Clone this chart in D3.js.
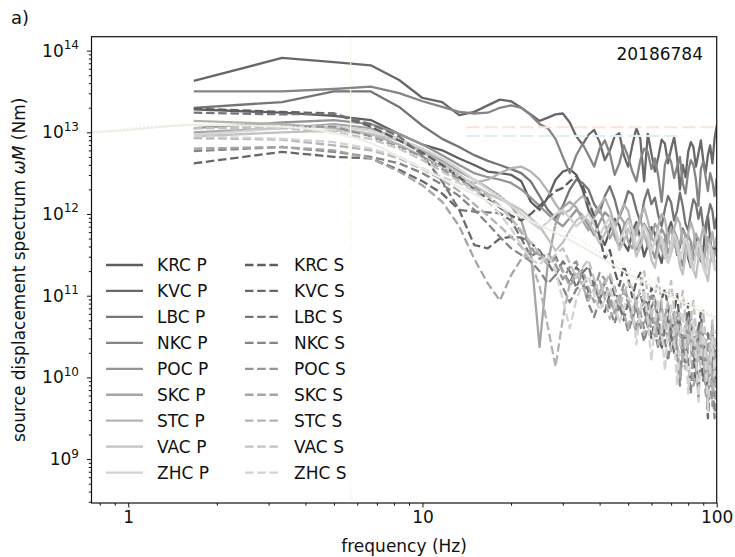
<!DOCTYPE html>
<html>
<head>
<meta charset="utf-8">
<script src="https://cdn.jsdelivr.net/npm/d3@7"></script>
<style>
  body { margin: 0; background: #fff; }
  svg { display: block; font-family: "DejaVu Sans", sans-serif; }
</style>
</head>
<body>
<svg id="chart" width="735" height="557"></svg>
<script>
// frequency bins (Hz)
const freqs = [1.67, 3.33, 5, 6.67, 8.33, 10, 11.67, 13.33, 15, 16.67,
  18.33, 20, 21.67, 23.33, 25, 26.67, 28.33, 30, 31.67, 33.33,
  35, 36.67, 38.33, 40, 41.67, 43.33, 45, 46.67, 48.33, 50,
  51.67, 53.33, 55, 56.67, 58.33, 60, 61.67, 63.33, 65, 66.67,
  68.33, 70, 71.67, 73.33, 75, 76.67, 78.33, 80, 81.67, 83.33,
  85, 86.67, 88.33, 90, 91.67, 93.33, 95, 96.67, 98.33, 100];

// spectra, log10 of omega*M (Nm), one value per bin
const krcP = [13.28, 13.24, 13.20, 13.15, 12.98, 12.85, 12.78, 12.68, 12.60, 12.52,
  12.50, 12.48, 12.40, 12.15, 12.05, 12.20, 12.42, 12.52, 12.55, 12.48,
  12.30, 12.05, 11.90, 11.75, 11.62, 11.80, 11.94, 11.86, 11.64, 11.55,
  11.78, 11.90, 11.70, 11.48, 11.62, 11.84, 11.76, 11.52, 11.40, 11.66,
  11.80, 11.90, 11.72, 11.50, 11.60, 11.82, 11.74, 11.46, 11.35, 11.58,
  11.72, 11.64, 11.42, 11.55, 11.86, 11.98, 11.70, 11.48, 11.60, 11.52];
const kvcP = [13.63, 13.91, 13.86, 13.82, 13.64, 13.42, 13.37, 13.21, 13.25, 13.33,
  13.40, 13.38, 13.30, 13.22, 13.14, 13.18, 13.22, 13.23, 13.12, 12.95,
  12.85, 12.97, 13.03, 12.88, 12.66, 12.78, 12.95, 12.99, 12.72, 12.58,
  12.84, 13.05, 12.92, 12.40, 12.98, 12.74, 12.52, 12.70, 12.91, 12.86,
  12.62, 12.80, 12.94, 12.70, 12.30, 12.60, 12.45, 12.76, 12.88, 12.82,
  12.58, 12.74, 12.90, 12.66, 12.50, 12.72, 12.84, 12.62, 12.92, 13.08];
const lbcP = [13.30, 13.37, 13.50, 13.50, 13.31, 13.08, 12.92, 12.82, 12.72, 12.65,
  12.60, 12.55, 12.50, 12.40, 12.22, 12.05, 11.95, 12.10, 12.30, 12.42,
  12.38, 12.30, 12.12, 12.02, 12.22, 12.34, 12.18, 11.96, 12.10, 12.28,
  12.24, 12.05, 11.90, 12.16, 12.30, 12.12, 12.20, 11.98, 11.85, 12.06,
  12.22, 12.14, 11.92, 12.04, 12.26, 12.10, 11.88, 11.80, 12.02, 12.18,
  12.12, 11.94, 12.08, 11.84, 11.76, 11.98, 12.12, 12.04, 11.82, 11.96];
const nkcP = [13.50, 13.50, 13.53, 13.56, 13.48, 13.38, 13.31, 13.25, 13.23, 13.24,
  13.30, 13.33, 13.30, 13.21, 13.10, 13.05, 12.92, 12.70, 12.50, 12.72,
  12.86, 12.72, 12.58, 12.80, 12.90, 12.74, 12.48, 12.62, 12.84, 12.70,
  12.52, 12.40, 12.66, 12.80, 12.76, 12.55, 12.68, 12.46, 12.15, 12.60,
  12.72, 12.64, 12.44, 12.58, 12.70, 12.38, 12.25, 12.52, 12.66, 12.60,
  12.42, 12.10, 12.55, 12.64, 12.46, 12.28, 12.50, 12.40, 12.22, 12.44];
const pocP = [13.05, 13.12, 13.15, 13.10, 12.98, 12.85, 12.72, 12.60, 12.50, 12.45,
  12.42, 12.38, 12.30, 12.20, 12.10, 12.00, 11.92, 11.85, 11.95, 12.05,
  11.98, 11.86, 11.74, 11.90, 12.02, 11.96, 11.72, 11.60, 11.84, 11.94,
  11.78, 11.56, 11.70, 11.88, 11.80, 11.58, 11.46, 11.68, 11.82, 11.74,
  11.52, 11.62, 11.80, 11.70, 11.48, 11.36, 11.60, 11.74, 11.66, 11.44,
  11.54, 11.70, 11.58, 11.38, 11.28, 11.50, 11.64, 11.56, 11.40, 11.32];
const skcP = [13.00, 13.05, 13.10, 13.05, 12.92, 12.78, 12.65, 12.52, 12.42, 12.32,
  12.22, 12.10, 11.92, 11.55, 10.37, 11.40, 11.88, 12.08, 12.15, 12.08,
  11.92, 11.80, 11.96, 12.06, 11.88, 11.70, 11.82, 11.98, 11.90, 11.66,
  11.58, 11.84, 11.94, 11.76, 11.60, 11.72, 11.88, 11.80, 11.56, 11.46,
  11.70, 11.84, 11.66, 11.52, 11.64, 11.80, 11.74, 11.50, 11.40, 11.62,
  11.76, 11.68, 11.46, 11.36, 11.58, 11.72, 11.62, 11.42, 11.55, 11.48];
const stcP = [13.14, 13.10, 13.05, 12.98, 12.85, 12.70, 12.58, 12.45, 12.38, 12.42,
  12.50, 12.56, 12.58, 12.52, 12.42, 12.28, 12.12, 12.00, 12.05, 12.15,
  12.22, 12.14, 12.00, 12.10, 12.20, 12.06, 11.86, 11.98, 12.12, 12.04,
  11.82, 11.74, 11.96, 12.08, 11.92, 11.72, 11.64, 11.86, 12.00, 11.94,
  11.70, 11.60, 11.82, 11.96, 11.88, 11.66, 11.54, 11.76, 11.90, 11.80,
  11.58, 11.48, 11.70, 11.84, 11.74, 11.52, 11.64, 11.78, 11.60, 11.72];
const vacP = [12.95, 13.00, 13.02, 12.98, 12.90, 12.75, 12.62, 12.48, 12.35, 12.25,
  12.18, 12.12, 12.05, 11.95, 11.85, 11.70, 11.55, 11.65, 11.80, 11.92,
  11.98, 11.92, 11.78, 11.64, 11.76, 11.88, 11.80, 11.56, 11.66, 11.82,
  11.70, 11.48, 11.60, 11.76, 11.68, 11.44, 11.34, 11.58, 11.72, 11.62,
  11.40, 11.52, 11.68, 11.58, 11.36, 11.26, 11.50, 11.64, 11.54, 11.32,
  11.22, 11.46, 11.60, 11.48, 11.28, 11.18, 11.42, 11.56, 11.36, 11.30];
const zhcP = [12.97, 13.05, 13.08, 13.02, 12.92, 12.80, 12.68, 12.55, 12.42, 12.30,
  12.20, 12.10, 12.00, 11.90, 11.82, 11.90, 12.00, 12.05, 11.95, 11.85,
  11.92, 12.00, 11.88, 11.74, 11.86, 11.96, 11.84, 11.66, 11.78, 11.92,
  11.82, 11.60, 11.72, 11.86, 11.76, 11.54, 11.66, 11.80, 11.70, 11.48,
  11.40, 11.62, 11.76, 11.66, 11.44, 11.56, 11.70, 11.60, 11.38, 11.30,
  11.52, 11.66, 11.56, 11.34, 11.26, 11.48, 11.62, 11.50, 11.32, 11.44];

const krcS = [13.29, 13.25, 13.23, 13.07, 12.90, 12.75, 12.60, 12.45, 12.30, 12.18,
  12.08, 11.98, 11.92, 12.00, 12.10, 12.20, 12.28, 12.32, 12.40, 12.46,
  12.35, 12.15, 11.97, 11.72, 11.45, 11.56, 11.30, 11.12, 11.36, 11.22,
  10.98, 11.18, 11.28, 11.02, 10.84, 11.10, 10.92, 10.70, 10.96, 11.08,
  10.86, 10.50, 10.80, 11.02, 10.64, 10.20, 10.56, 10.90, 10.62, 10.20,
  9.95, 10.58, 10.80, 10.40, 10.10, 9.70, 10.42, 10.64, 10.00, 10.46];
const kvcS = [12.62, 12.76, 12.70, 12.68, 12.54, 12.40, 12.25, 12.05, 11.62, 11.58,
  11.70, 11.72, 11.71, 11.65, 11.55, 11.40, 11.48, 11.30, 11.15, 11.35,
  11.25, 11.05, 11.18, 10.96, 10.80, 11.02, 11.10, 10.88, 10.70, 10.92,
  10.76, 10.58, 10.84, 10.94, 10.66, 10.48, 10.72, 10.56, 10.34, 10.62,
  10.74, 10.50, 10.30, 10.56, 10.66, 10.40, 10.18, 10.44, 10.58, 10.32,
  10.10, 10.38, 10.22, 9.96, 10.28, 9.50, 9.90, 10.26, 10.04, 9.88];
const lbcS = [13.24, 13.22, 13.23, 13.10, 12.95, 12.72, 12.40, 12.05, 12.03, 12.02,
  12.01, 11.92, 11.70, 11.48, 11.55, 11.40, 11.25, 11.42, 11.30, 11.10,
  11.28, 11.36, 11.12, 10.94, 11.16, 11.24, 11.00, 10.84, 11.06, 10.92,
  10.74, 10.96, 11.04, 10.82, 10.62, 10.86, 10.96, 10.70, 10.52, 10.78,
  10.88, 10.64, 10.44, 10.70, 10.58, 10.36, 10.62, 10.72, 10.46, 10.26,
  10.50, 10.62, 10.38, 10.16, 10.42, 10.54, 10.24, 10.04, 10.34, 10.20];
const nkcS = [12.77, 12.82, 12.76, 12.70, 12.62, 12.50, 12.36, 12.22, 12.05, 11.88,
  11.72, 11.58, 11.50, 11.42, 11.30, 11.15, 11.25, 11.10, 10.92, 11.08,
  11.15, 10.90, 10.74, 10.96, 11.04, 10.84, 10.66, 10.88, 10.78, 10.56,
  10.72, 10.86, 10.64, 10.44, 10.62, 10.76, 10.54, 10.36, 10.58, 10.46,
  10.20, 10.52, 10.70, 10.30, 9.90, 10.46, 10.62, 10.20, 9.80, 10.40,
  10.30, 9.75, 10.32, 10.48, 10.06, 9.60, 10.24, 10.02, 9.50, 10.12];
const pocS = [13.05, 13.07, 13.07, 12.95, 12.82, 12.70, 12.55, 12.42, 12.32, 12.22,
  12.10, 11.95, 11.78, 11.60, 11.45, 11.52, 11.38, 11.20, 11.35, 11.42,
  11.18, 10.98, 11.06, 11.28, 11.20, 10.92, 10.80, 10.96, 11.14, 10.94,
  10.72, 10.88, 10.80, 10.60, 10.86, 11.00, 10.90, 10.64, 10.52, 10.74,
  10.90, 10.62, 10.58, 10.80, 10.70, 10.42, 10.30, 10.56, 10.74, 10.60,
  10.36, 10.50, 10.64, 10.30, 10.10, 10.40, 10.52, 9.65, 10.20, 10.36];
const skcS = [12.80, 12.82, 12.78, 12.68, 12.52, 12.35, 12.15, 11.85, 11.45, 11.15,
  10.94, 11.25, 11.45, 11.55, 11.50, 11.38, 11.45, 11.30, 11.12, 11.25,
  11.32, 11.10, 10.92, 11.04, 11.18, 11.00, 10.78, 10.90, 11.06, 10.96,
  10.70, 10.56, 10.82, 10.94, 10.76, 10.60, 10.50, 10.76, 10.86, 10.64,
  10.44, 10.70, 10.80, 10.42, 10.00, 10.24, 10.60, 10.72, 10.40, 9.90,
  10.00, 10.44, 10.62, 10.30, 9.80, 9.70, 10.30, 10.50, 10.10, 9.60];
const stcS = [12.93, 12.91, 12.84, 12.78, 12.68, 12.55, 12.42, 12.28, 12.12, 11.98,
  11.85, 11.72, 11.60, 11.42, 11.12, 10.62, 10.13, 10.72, 11.15, 11.28,
  11.12, 10.94, 11.08, 11.18, 10.96, 10.72, 10.88, 11.00, 10.80, 10.60,
  10.84, 10.94, 10.70, 10.52, 10.64, 10.82, 10.66, 10.40, 10.58, 10.74,
  10.56, 10.32, 10.46, 10.64, 10.50, 10.22, 10.10, 10.40, 10.56, 10.38,
  10.16, 10.30, 10.46, 10.24, 9.96, 10.20, 10.36, 9.82, 10.14, 10.26];
const vacS = [13.05, 13.05, 13.00, 12.92, 12.80, 12.66, 12.52, 12.40, 12.30, 12.22,
  12.10, 11.95, 11.80, 11.65, 11.52, 11.40, 11.50, 11.58, 11.40, 11.22,
  11.35, 11.44, 11.20, 11.00, 11.14, 11.28, 11.08, 10.86, 11.02, 11.16,
  11.10, 10.86, 11.12, 11.30, 11.02, 10.74, 11.00, 11.22, 10.90, 10.60,
  10.96, 11.18, 10.84, 10.52, 10.80, 11.06, 10.72, 10.40, 10.70, 10.94,
  10.60, 10.20, 10.56, 10.82, 10.46, 10.10, 10.44, 10.70, 10.36, 10.58];
const zhcS = [12.95, 12.92, 12.88, 12.80, 12.70, 12.56, 12.45, 12.38, 12.28, 12.15,
  12.00, 11.82, 11.62, 11.45, 11.38, 11.50, 11.30, 10.95, 10.60, 10.95,
  11.15, 11.24, 11.02, 10.82, 10.96, 11.10, 10.90, 10.66, 10.86, 10.98,
  10.90, 10.40, 10.82, 11.08, 10.70, 10.20, 10.66, 10.96, 10.60, 10.08,
  10.58, 10.88, 10.50, 9.90, 10.46, 10.80, 10.40, 9.80, 10.34, 10.70,
  10.30, 9.70, 10.24, 10.60, 10.20, 9.60, 10.12, 10.50, 10.02, 10.30];

// fitted source model (faint) and its dotted companion
const modelFreq = [0.75, 1, 1.67, 3.33, 5, 6.67, 8.33, 13.3, 18.3, 31.7, 54.8, 100];
const modelAmp = [1.0e13, 1.07e13, 1.23e13, 1.17e13, 9.8e12, 7.4e12, 5.0e12, 2.14e12, 1.23e12, 4.8e11, 1.55e11, 5.2e10];
const dottedFreq = [0.75, 1.67, 3.33, 5, 6.67, 10, 20, 50, 100];
const dottedAmp = [9.8e12, 1.25e13, 1.2e13, 1.05e13, 8.5e12, 4.8e12, 1.4e12, 2.2e11, 5.5e10];
const cornerFreq = 5.7;
const levelLines = [
  { f0: 14.1, f1: 100, amp: 1.15e13, color: "#f8e4d8" },
  { f0: 14.1, f1: 77, amp: 9.0e12, color: "#e0edf4" }
];

const stations = ["KRC", "KVC", "LBC", "NKC", "POC", "SKC", "STC", "VAC", "ZHC"];
const grays = ["#5e5e5e", "#686868", "#757575", "#858585", "#959595", "#a5a5a5", "#b3b3b3", "#c2c2c2", "#d3d3d3"];
const pSpectra = [krcP, kvcP, lbcP, nkcP, pocP, skcP, stcP, vacP, zhcP];
const sSpectra = [krcS, kvcS, lbcS, nkcS, pocS, skcS, stcS, vacS, zhcS];
const eventId = "20186784";

const xMajor = [1, 10, 100];
const yMajor = [1e9, 1e10, 1e11, 1e12, 1e13, 1e14];

const L = 91.5, R = 716.7, T = 36.7, B = 503;
const svg = d3.select("#chart");

const x = d3.scaleLog().domain([0.75, 100]).range([L, R]);
const y = d3.scaleLog().domain([2.9e8, 1.48e14]).range([B, T]);

svg.append("defs").append("clipPath").attr("id", "plot")
  .append("rect").attr("x", L).attr("y", T).attr("width", R - L).attr("height", B - T);

const plot = svg.append("g").attr("clip-path", "url(#plot)");

const line = d3.line()
  .x(d => x(d[0]))
  .y(d => y(d[1]));

const series = [];
pSpectra.forEach((arr, i) => series.push({ name: stations[i] + " P", color: grays[i], dash: null, values: arr }));
sSpectra.forEach((arr, i) => series.push({ name: stations[i] + " S", color: grays[i], dash: "8.5,3.7", values: arr }));

plot.append("g")
  .selectAll("path")
  .data(series)
  .join("path")
  .attr("fill", "none")
  .attr("stroke", d => d.color)
  .attr("stroke-width", 2.3)
  .attr("stroke-linejoin", "round")
  .attr("stroke-dasharray", d => d.dash)
  .attr("d", d => line(d.values.map((v, k) => [freqs[k], Math.pow(10, v)])));

// faint annotations
plot.append("line")
  .attr("x1", x(cornerFreq)).attr("x2", x(cornerFreq))
  .attr("y1", T).attr("y2", B)
  .attr("stroke", "#f9f6ea").attr("stroke-width", 1.2)
  .attr("stroke-dasharray", "22,4");

plot.selectAll(".level")
  .data(levelLines)
  .join("line")
  .attr("x1", d => x(d.f0)).attr("x2", d => x(d.f1))
  .attr("y1", d => y(d.amp)).attr("y2", d => y(d.amp))
  .attr("stroke", d => d.color).attr("stroke-width", 2)
  .attr("stroke-dasharray", "13,5");

const smooth = d3.line().curve(d3.curveMonotoneX).x(d => x(d[0])).y(d => y(d[1]));
plot.append("path")
  .attr("fill", "none").attr("stroke", "#f5e6da").attr("stroke-width", 1.3)
  .attr("stroke-dasharray", "1.5,2.5")
  .attr("d", smooth(dottedFreq.map((f, i) => [f, dottedAmp[i]])));
plot.append("path")
  .attr("fill", "none").attr("stroke", "#f0ede4").attr("stroke-width", 2)
  .attr("d", smooth(modelFreq.map((f, i) => [f, modelAmp[i]])));

// legend
const legend = svg.append("g");
legend.append("rect")
  .attr("x", 98).attr("y", 251).attr("width", 260).attr("height", 236)
  .attr("fill", "#fff").attr("opacity", 0.8);
const rowY = i => 265 + i * 25.95;
const cols = [
  { lx0: 106, lx1: 143, tx: 157, dash: null, suffix: " P" },
  { lx0: 245, lx1: 280, tx: 294, dash: "8.5,3.7", suffix: " S" }
];
cols.forEach(c => {
  const g = legend.append("g");
  g.selectAll("line").data(stations).join("line")
    .attr("x1", c.lx0).attr("x2", c.lx1)
    .attr("y1", (d, i) => rowY(i)).attr("y2", (d, i) => rowY(i))
    .attr("stroke", (d, i) => grays[i]).attr("stroke-width", 2.3)
    .attr("stroke-dasharray", c.dash);
  g.selectAll("text").data(stations).join("text")
    .attr("x", c.tx).attr("y", (d, i) => rowY(i) + 6.2)
    .attr("font-size", 17).attr("fill", "#111")
    .text(d => d + c.suffix);
});

// axes
function minors(lo, hi) {
  const out = [];
  for (let e = Math.floor(Math.log10(lo)); e <= Math.ceil(Math.log10(hi)); e++) {
    for (let m = 2; m <= 9; m++) {
      const v = m * Math.pow(10, e);
      if (v >= lo && v <= hi) out.push(v);
    }
  }
  return out;
}

const xAxis = svg.append("g").attr("transform", `translate(0,${B})`);
xAxis.call(d3.axisBottom(x).tickValues(xMajor).tickSize(4.5).tickFormat(d3.format("d")).tickPadding(3.5));
xAxis.append("g").call(d3.axisBottom(x).tickValues(minors(0.75, 100)).tickSize(2.7).tickFormat(""));
xAxis.selectAll("text").attr("font-size", 17).attr("fill", "#111").attr("font-family", "DejaVu Sans");

const yAxis = svg.append("g").attr("transform", `translate(${L},0)`);
yAxis.call(d3.axisLeft(y).tickValues(yMajor).tickSize(4.5).tickFormat(""));
yAxis.append("g").call(d3.axisLeft(y).tickValues(minors(2.9e8, 1.48e14)).tickSize(2.7).tickFormat(""));
[xAxis, yAxis].forEach(a => {
  a.selectAll(".domain").remove();
  a.selectAll(".tick line").attr("stroke", "#111").attr("stroke-width", 1);
});

const yLab = svg.append("g").selectAll("text").data(yMajor).join("text")
  .attr("x", 79).attr("y", d => y(d) + 6)
  .attr("text-anchor", "end").attr("font-size", 17).attr("fill", "#111");
yLab.append("tspan").text("10");
yLab.append("tspan").attr("font-size", 12).attr("dy", -7.5).text(d => Math.round(Math.log10(d)));

svg.append("rect")
  .attr("x", L).attr("y", T).attr("width", R - L).attr("height", B - T)
  .attr("fill", "none").attr("stroke", "#111").attr("stroke-width", 1.2);

// labels
svg.append("text")
  .attr("x", (L + R) / 2).attr("y", 552)
  .attr("text-anchor", "middle").attr("font-size", 17).attr("fill", "#111")
  .text("frequency (Hz)");

const yt = svg.append("text")
  .attr("transform", `translate(25,${(T + B) / 2}) rotate(-90)`)
  .attr("text-anchor", "middle").attr("font-size", 17).attr("fill", "#111");
yt.append("tspan").text("source displacement spectrum ");
yt.append("tspan").attr("font-style", "italic").text("ωM");
yt.append("tspan").text(" (Nm)");

svg.append("text")
  .attr("x", 703).attr("y", 60)
  .attr("text-anchor", "end").attr("font-size", 17).attr("fill", "#111")
  .text(eventId);

svg.append("text")
  .attr("x", 11).attr("y", 24)
  .attr("font-size", 18).attr("fill", "#111")
  .text("a)");
</script>
</body>
</html>
